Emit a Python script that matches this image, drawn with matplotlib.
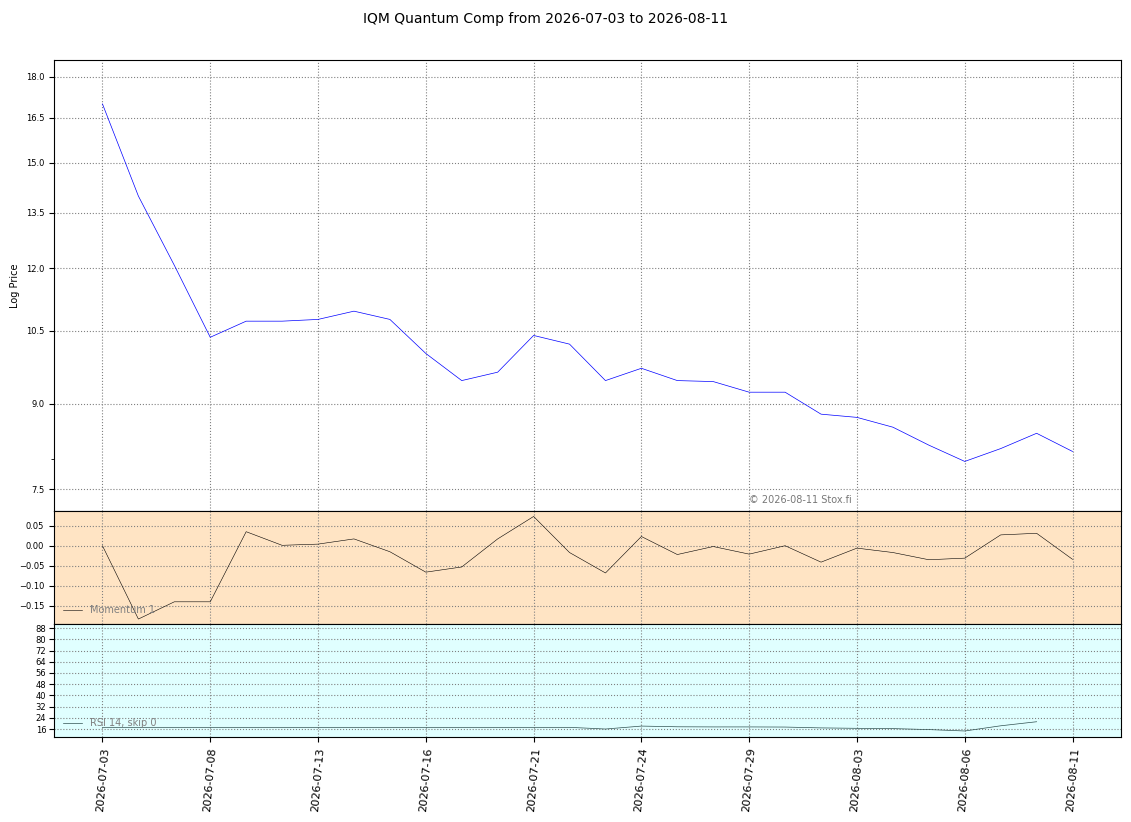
import matplotlib
matplotlib.use('Agg')
import matplotlib.pyplot as plt
from matplotlib.ticker import FixedLocator, NullFormatter, FormatStrFormatter

# trading days shown on the chart
dates = ['2026-07-03', '2026-07-06', '2026-07-07', '2026-07-08', '2026-07-09',
         '2026-07-10', '2026-07-13', '2026-07-14', '2026-07-15', '2026-07-16',
         '2026-07-17', '2026-07-20', '2026-07-21', '2026-07-22', '2026-07-23',
         '2026-07-24', '2026-07-27', '2026-07-28', '2026-07-29', '2026-07-30',
         '2026-07-31', '2026-08-03', '2026-08-04', '2026-08-05', '2026-08-06',
         '2026-08-07', '2026-08-10', '2026-08-11']

price = [17.0, 13.98, 12.07, 10.36, 10.72, 10.72, 10.76, 10.95, 10.76, 10.01,
         9.45, 9.62, 10.40, 10.21, 9.45, 9.70, 9.45, 9.43, 9.22, 9.22,
         8.80, 8.74, 8.56, 8.24, 7.96, 8.18, 8.45, 8.13]

momentum = [0.0, -0.183, -0.14, -0.14, 0.035, 0.001, 0.004, 0.017, -0.015, -0.066,
            -0.053, 0.017, 0.073, -0.017, -0.068, 0.023, -0.022, -0.002, -0.021, 0.0,
            -0.041, -0.006, -0.017, -0.035, -0.031, 0.027, 0.031, -0.034]

rsi = [17.2, 17.2, 17.2, 17.2, 17.2, 17.2, 17.2, 17.2, 17.2, 17.2,
       17.2, 17.2, 17.2, 17.2, 16.0, 18.1, 17.6, 17.5, 17.5, 17.4,
       16.8, 16.5, 16.3, 15.6, 14.6, 18.3, 21.2]

price_ticks = [7.5, 9.0, 10.5, 12.0, 13.5, 15.0, 16.5, 18.0]
mom_ticks = [-0.15, -0.10, -0.05, 0.0, 0.05]
rsi_ticks = [16, 24, 32, 40, 48, 56, 64, 72, 80, 88]

x = list(range(len(dates)))
tick_idx = x[::3]

fig = plt.figure(figsize=(11.31, 8.22), dpi=100)
gs = fig.add_gridspec(3, 1, height_ratios=[4, 1, 1], hspace=0,
                      left=0.0477, right=0.9912, top=0.927, bottom=0.1034)
ax1 = fig.add_subplot(gs[0])
ax2 = fig.add_subplot(gs[1], sharex=ax1)
ax3 = fig.add_subplot(gs[2], sharex=ax1)

fig.suptitle('IQM Quantum Comp from %s to %s' % (dates[0], dates[-1]),
             x=0.482, y=0.985, fontsize=10)

# price panel
ax1.plot(x, price, color='blue', lw=0.5)
ax1.set_yscale('log')
ax1.yaxis.set_major_locator(FixedLocator(price_ticks))
ax1.yaxis.set_major_formatter(FormatStrFormatter('%.1f'))
ax1.yaxis.set_minor_locator(FixedLocator([8.0]))
ax1.yaxis.set_minor_formatter(NullFormatter())
ax1.set_ylim(7.16, 18.66)
ax1.set_ylabel('Log Price', fontsize=7)
ax1.tick_params(axis='y', labelsize=6)
ax1.grid(True, color='gray', linestyle=':', lw=0.8)
ax1.text(0.651, 0.018, '\u00a9 2026-08-11 Stox.fi', transform=ax1.transAxes,
         fontsize=7, color='dimgray', alpha=0.9)
plt.setp(ax1.get_xticklabels(), visible=False)
ax1.tick_params(axis='x', length=0)

# momentum panel
ax2.set_facecolor('bisque')
ax2.plot(x, momentum, color='black', lw=0.4, label='Momentum 1')
ax2.set_yticks(mom_ticks)
ax2.tick_params(axis='y', labelsize=6)
ax2.grid(True, color='gray', linestyle=':', lw=0.8)
ax2.legend(loc='lower left', frameon=False, fontsize=7, labelcolor='gray')
plt.setp(ax2.get_xticklabels(), visible=False)
ax2.tick_params(axis='x', length=0)

# rsi panel
ax3.set_facecolor('lightcyan')
ax3.plot(x[:len(rsi)], rsi, color='darkslategray', lw=0.5, label='RSI 14, skip 0')
ax3.set_yticks(rsi_ticks)
ax3.set_ylim(10.3, 90.85)
ax3.tick_params(axis='y', labelsize=6, pad=2)
ax3.grid(True, color='gray', linestyle=':', lw=0.8)
ax3.legend(loc='lower left', frameon=False, fontsize=7, labelcolor='gray')

ax3.set_xticks(tick_idx)
ax3.set_xticklabels([dates[i] for i in tick_idx], rotation=85, fontsize=8)
ax3.set_xlim(-1.35, len(dates) - 1 + 1.35)

fig.savefig('out.png', dpi=100)
